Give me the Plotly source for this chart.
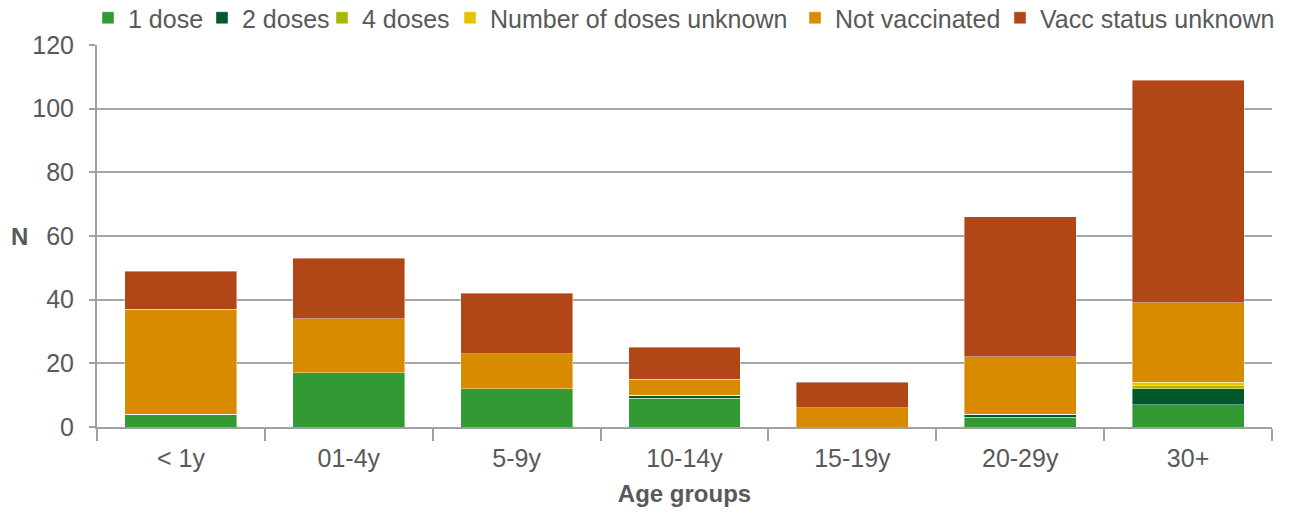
import plotly.graph_objects as go

categories = ["< 1y", "01-4y", "5-9y", "10-14y", "15-19y", "20-29y", "30+"]
one_dose = [4, 17, 12, 9, 0, 3, 7]
two_doses = [0, 0, 0, 1, 0, 1, 5]
four_doses = [0, 0, 0, 0, 0, 0, 1]
doses_unknown = [0, 0, 0, 0, 0, 0, 1]
not_vaccinated = [33, 17, 11, 5, 6, 18, 25]
vacc_unknown = [12, 19, 19, 10, 8, 44, 70]

series = [
    ("1 dose", one_dose, "#339933"),
    ("2 doses", two_doses, "#00592D"),
    ("4 doses", four_doses, "#A8B800"),
    ("Number of doses unknown", doses_unknown, "#E6C300"),
    ("Not vaccinated", not_vaccinated, "#D98B00"),
    ("Vacc status unknown", vacc_unknown, "#B14716"),
]
# pixel x where each legend entry's text starts
legend_text_x = [128, 242, 362, 490, 835, 1040]

font_color = "#595959"
axis_color = "#A0A0A0"
W, H = 1301, 512
L, R, T, B = 97, 29, 45, 85

fig = go.Figure()
legend_layout = {}
for i, ((name, vals, color), tx) in enumerate(zip(series, legend_text_x)):
    key = "legend" if i == 0 else f"legend{i + 1}"
    fig.add_trace(go.Bar(
        name=name, x=categories, y=vals, legend=key, showlegend=True,
        marker=dict(color=color, line=dict(color="rgba(255,255,255,0.5)", width=0.8)),
    ))
    legend_layout[key] = dict(
        orientation="h", xref="container", x=(tx - 40) / W, xanchor="left",
        yref="container", y=1 - 18 / H, yanchor="middle",
        font=dict(size=25, color=font_color), itemwidth=30,
        bgcolor="rgba(0,0,0,0)", borderwidth=0,
    )

fig.update_layout(
    barmode="stack",
    bargap=0.333,
    showlegend=True,
    width=W, height=H,
    margin=dict(l=L, r=R, t=T, b=B, autoexpand=False),
    paper_bgcolor="white", plot_bgcolor="white",
    font=dict(family="Liberation Sans, Arial, sans-serif", size=25, color=font_color),
    xaxis=dict(
        title=dict(text="<b>Age groups</b>", font=dict(size=24, color=font_color), standoff=14),
        showline=True, linecolor=axis_color, linewidth=2,
        ticks="outside", tickson="boundaries", ticklen=12, tickcolor=axis_color, tickwidth=2,
        tickfont=dict(size=25, color=font_color), ticklabelstandoff=8,
    ),
    yaxis=dict(
        range=[0, 120], dtick=20, showgrid=True, gridcolor="#A6A6A6", gridwidth=1.5,
        zeroline=False, showline=True, linecolor=axis_color, linewidth=2,
        ticks="outside", ticklen=6, tickcolor=axis_color, tickwidth=2,
        tickfont=dict(size=25, color=font_color), ticklabelstandoff=10,
    ),
    annotations=[dict(text="<b>N</b>", xref="paper", yref="y", x=(19 - L) / (W - L - R), y=60,
                      xanchor="center", yanchor="middle", showarrow=False,
                      font=dict(size=24, color=font_color))],
    **legend_layout,
)
fig.write_html("out.html", config={"displayModeBar": False},
               post_script="document.body.style.margin='0';")
